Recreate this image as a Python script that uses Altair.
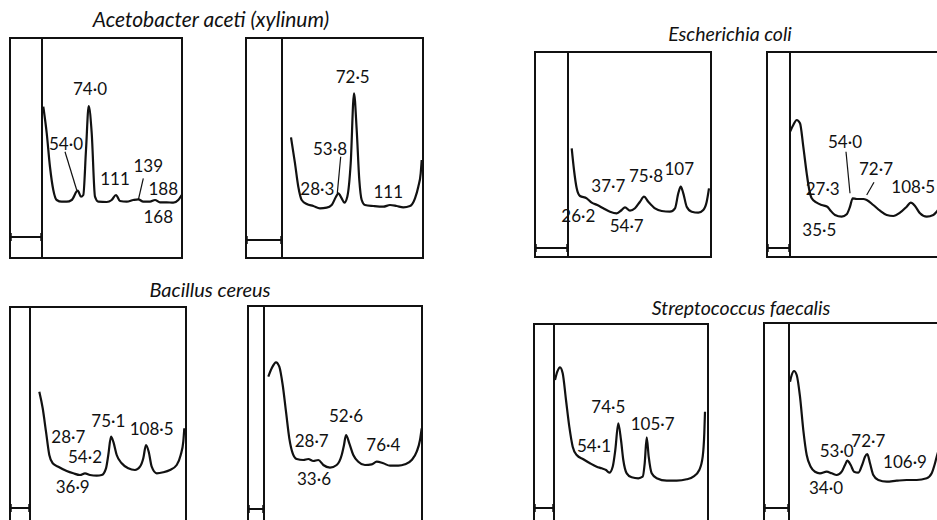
import altair as alt
import pandas as pd

# ---------------- data: traces (u = position right of strip, v = depth below panel top) ----------------
P1_U = [1.3, 4.7, 8, 11.3, 14.7, 19.7, 24.7, 29.7, 35.7, 39, 41.3, 44, 46.7, 49.7, 53, 56.3, 64.7, 69.7, 74, 78, 84.7, 91.3, 96.3, 101.3, 108, 113, 118, 124.7, 131.3, 136.3, 139.7]
P1_V = [68.7, 95, 129, 152, 162, 163.7, 163.7, 162, 152.7, 158.7, 157, 112, 68, 95, 158.7, 163.7, 164, 162, 157, 163, 163.7, 162, 161.3, 163.7, 163.7, 162, 164.3, 164.3, 164.7, 162, 157]

P2_U = [9, 13, 16.3, 19.7, 24.7, 31.3, 38, 44.7, 49.7, 54, 56.3, 59.7, 62.3, 65.3, 68.7, 72, 74.7, 77.3, 79.7, 83, 91.3, 101.3, 108, 114.7, 121.3, 128, 133, 136.3, 138.7, 139.7]
P2_V = [99.3, 125.3, 148.7, 162, 166, 168, 170.3, 169.7, 167, 158.7, 155.3, 160.3, 164.7, 158.7, 125.3, 55.3, 92, 142, 162, 167, 168, 168.7, 167, 168, 169.3, 168, 160.3, 148.7, 135.3, 122]

P3_U = [3.7, 6, 8.7, 12, 18.7, 23.7, 29.3, 35.3, 42, 48.7, 53.7, 57, 62, 67, 72, 76, 80.3, 87, 93.7, 102, 107, 110.3, 112.7, 115.3, 118.7, 123.7, 130.3, 135.3, 138.7, 141]
P3_V = [96.3, 118, 136.3, 144, 146.3, 150.7, 153, 156.3, 159.7, 161.3, 158, 155.3, 158.7, 156.3, 149.7, 144.7, 149.7, 156.3, 159, 159.7, 156.3, 141.3, 134.7, 141.3, 154.7, 159.7, 160.7, 158, 149.7, 136.3]

P4_U = [0, 3.3, 6.7, 10, 13.3, 16.7, 19.3, 21.7, 26.7, 31.7, 37.3, 40, 45, 51.7, 56.7, 60, 62.7, 66.7, 73.3, 76.7, 83.3, 90, 96.7, 103.3, 110, 116.7, 120.7, 125, 130, 136.7, 143.3, 146.7, 152]
P4_V = [79.7, 73, 68, 71.3, 94.7, 121.3, 138, 146.3, 150.7, 153, 154.7, 158, 163, 164.7, 162.3, 154.7, 146.3, 147, 147, 148, 153, 158.7, 163, 164, 160.7, 154.7, 150.7, 154, 161.3, 164.7, 163, 159.7, 152]

P5_U = [9.3, 12.7, 16, 19.3, 22.7, 28.3, 36.7, 43.3, 50, 55, 60, 66.7, 71.7, 76, 78.3, 81, 83.3, 86.7, 91.7, 98.3, 105, 110, 113.3, 116, 118.7, 121.7, 126.7, 133.3, 140, 146.7, 150.7, 153.3, 154.3]
P5_V = [84.7, 101.3, 124.7, 148, 156.3, 159.7, 164, 166.3, 168, 166.3, 168, 168.7, 168, 161.3, 148, 129.7, 134.7, 148, 156.3, 161.3, 163, 159.7, 151.3, 138, 144.7, 159.7, 166.3, 165.3, 163, 158, 148, 134.7, 121.3]

P6_U = [4.3, 7.7, 12, 15.3, 18.7, 22, 25.3, 28.7, 32.7, 39.3, 44.3, 49.3, 54.3, 59.3, 66, 72.7, 77.7, 80, 82, 85.3, 89.3, 94.3, 101, 107.7, 112.7, 119.3, 126, 134.3, 141, 147.7, 152.7, 156, 157.7]
P6_V = [70.7, 62.3, 56.3, 60.7, 79, 105.7, 132.3, 147.3, 153, 154, 153, 155, 154, 159, 161.7, 159, 149, 139, 129, 137.3, 149, 155.7, 159, 158.3, 155.7, 157.3, 159.7, 159.7, 158.3, 154, 145.7, 134, 122.3]

P7_U = [1, 3.3, 6, 8.7, 12, 15.3, 18.7, 22.7, 29.3, 36, 42.7, 47.7, 52, 55.3, 58.7, 61.3, 64.3, 67, 69.3, 72.7, 77.7, 84.3, 88.7, 90.7, 92.7, 94.7, 97.7, 102.7, 112.7, 122.7, 132.7, 139.3, 145.3, 148.7, 150.3, 151]
P7_V = [56, 47.7, 43.3, 49.3, 76, 102.7, 122.7, 131, 135.3, 139.3, 142.7, 144.3, 146, 148.7, 142.7, 126, 99.3, 116, 136, 149.3, 153.3, 154.3, 152.7, 139.3, 113.3, 132.7, 149.3, 154.3, 156.7, 156.7, 155.3, 152.7, 146, 132.7, 109.3, 87.7]

P8_U = [1, 2.7, 5, 7.7, 11, 14.3, 17.7, 21.7, 26, 31, 37.7, 42.7, 47.7, 52.7, 56, 58.3, 61.7, 65, 69.3, 73.7, 76, 78.3, 81, 84.3, 89.3, 97.7, 107.7, 117.7, 127.7, 137.7, 142.7, 146, 147.7, 152]
P8_V = [58.7, 52, 48, 52, 73.7, 107, 132, 143.7, 148.7, 150.3, 148.7, 150.3, 152, 148.7, 142, 137.7, 142, 148.7, 149.7, 140.3, 133.7, 131, 140.3, 152, 157, 158.7, 157.7, 157, 157, 155.3, 150.3, 140.3, 133.7, 120]

TRACES = {"P1": (P1_U, P1_V), "P2": (P2_U, P2_V), "P3": (P3_U, P3_V), "P4": (P4_U, P4_V),
          "P5": (P5_U, P5_V), "P6": (P6_U, P6_V), "P7": (P7_U, P7_V), "P8": (P8_U, P8_V)}

# ---------------- data: peak labels ----------------
LABEL_PANEL = ["P1", "P1", "P1", "P1", "P1", "P1",
               "P2", "P2", "P2", "P2",
               "P3", "P3", "P3", "P3", "P3",
               "P4", "P4", "P4", "P4", "P4",
               "P5", "P5", "P5", "P5", "P5",
               "P6", "P6", "P6", "P6",
               "P7", "P7", "P7",
               "P8", "P8", "P8", "P8"]
LABEL_TEXT = ["74·0", "54·0", "111", "139", "188", "168",
              "72·5", "53·8", "28·3", "111",
              "26·2", "37·7", "75·8", "107", "54·7",
              "54·0", "72·7", "27·3", "108·5", "35·5",
              "28·7", "75·1", "108·5", "54·2", "36·9",
              "52·6", "28·7", "76·4", "33·6",
              "74·5", "105·7", "54·1",
              "53·0", "72·7", "106·9", "34·0"]
LABEL_U = [48, 24, 73, 106.3, 121.3, 116.3,
           70.7, 48, 35.3, 106.3,
           10.3, 40.3, 78, 111.3, 58.7,
           55, 86, 32.7, 123.3, 29.3,
           38.3, 78.3, 121.7, 55, 42.7,
           82, 47.7, 119.3, 50,
           54.3, 98.7, 40,
           47.7, 79.3, 116, 37]
LABEL_V = [52, 107, 142, 128.7, 152, 180.3,
           40.3, 112, 152, 154.7,
           164.7, 134.7, 124.7, 118, 175.3,
           91.3, 118, 138, 136.3, 178.7,
           131.3, 114.7, 123, 151.3, 181.3,
           110.7, 135.7, 139.7, 174,
           84.3, 101, 122.7,
           128.7, 118.7, 140.3, 166.3]

# leader lines (panel, u1, v1, u2, v2)
LEADER_PANEL = ["P1", "P1", "P2", "P4", "P4"]
LEADER_U1 = [23, 101.3, 58.7, 56, 84]
LEADER_V1 = [113.7, 140.3, 118.7, 99.7, 130.3]
LEADER_U2 = [34.7, 96.3, 55.3, 60, 76.7]
LEADER_V2 = [152, 162, 155.3, 141.3, 143]

# species titles
TITLE_TEXT = ["Acetobacter aceti (xylinum)", "Escherichia coli", "Bacillus cereus", "Streptococcus faecalis"]

# ---------------- layout (pixel frame of each panel) ----------------
LAYOUT = {
    "P1": dict(left=10, div=42, right=182, top=38, bottom=258, bar=237),
    "P2": dict(left=246, div=282, right=423, top=38, bottom=258, bar=240),
    "P3": dict(left=535, div=568, right=711, top=52, bottom=257, bar=248),
    "P4": dict(left=767, div=790, right=960, top=52, bottom=257, bar=248),
    "P5": dict(left=10, div=30, right=186, top=307, bottom=530, bar=508),
    "P6": dict(left=248, div=264, right=422, top=306, bottom=530, bar=509),
    "P7": dict(left=534, div=554, right=708, top=324, bottom=530, bar=508),
    "P8": dict(left=764, div=789, right=960, top=323, bottom=530, bar=508),
}
TITLE_POS = [(211, 27, 21), (730, 41, 19.5), (210, 297, 20), (741, 315, 19.5)]

# ---------------- build tables ----------------
rows = []
for p, (us, vs) in TRACES.items():
    L = LAYOUT[p]
    for i, (u, v) in enumerate(zip(us, vs)):
        rows.append(dict(panel=p, i=i, x=L["div"] + u, y=L["top"] + v))
trace_df = pd.DataFrame(rows)

box_df = pd.DataFrame([dict(panel=p, x=L["left"], x2=L["right"], y=L["top"], y2=L["bottom"]) for p, L in LAYOUT.items()])
div_df = pd.DataFrame([dict(panel=p, x=L["div"], y=L["top"], y2=L["bottom"]) for p, L in LAYOUT.items()])
bar_df = pd.DataFrame([dict(panel=p, x=L["left"], x2=L["div"], y=L["bar"]) for p, L in LAYOUT.items()])
tick_df = pd.DataFrame([dict(x=xx, y=L["bar"] - 4, y2=L["bar"] + 4) for p, L in LAYOUT.items() for xx in (L["left"] + 1, L["div"] - 1)])

label_df = pd.DataFrame([dict(t=t, x=LAYOUT[p]["div"] + u, y=LAYOUT[p]["top"] + v)
                         for p, t, u, v in zip(LABEL_PANEL, LABEL_TEXT, LABEL_U, LABEL_V)])
leader_df = pd.DataFrame([dict(x=LAYOUT[p]["div"] + a, y=LAYOUT[p]["top"] + b, x2=LAYOUT[p]["div"] + c, y2=LAYOUT[p]["top"] + d)
                          for p, a, b, c, d in zip(LEADER_PANEL, LEADER_U1, LEADER_V1, LEADER_U2, LEADER_V2)])
title_df = pd.DataFrame([dict(t=t, x=x, y=y, s=s) for t, (x, y, s) in zip(TITLE_TEXT, TITLE_POS)])

X = alt.Scale(domain=[0, 937], nice=False, zero=False)
Y = alt.Scale(domain=[0, 520], nice=False, zero=False, reverse=True)


def xe(f="x"):
    return alt.X(f"{f}:Q", scale=X, axis=None)


def ye(f="y"):
    return alt.Y(f"{f}:Q", scale=Y, axis=None)


INK = "#111111"

boxes = alt.Chart(box_df).mark_rect(fill=None, stroke=INK, strokeWidth=2, clip=True).encode(
    x=xe(), x2="x2:Q", y=ye(), y2="y2:Q")
divs = alt.Chart(div_df).mark_rule(color=INK, strokeWidth=2, clip=True).encode(
    x=xe(), y=ye(), y2="y2:Q")
bars = alt.Chart(bar_df).mark_rule(color=INK, strokeWidth=2, clip=True).encode(
    x=xe(), x2="x2:Q", y=ye())
ticks = alt.Chart(tick_df).mark_rule(color=INK, strokeWidth=1.5, clip=True).encode(
    x=xe(), y=ye(), y2="y2:Q")
traces = alt.Chart(trace_df).mark_line(color=INK, strokeWidth=2.2, interpolate="monotone", clip=True).encode(
    x=xe(), y=ye(), detail="panel:N", order="i:Q")
leaders = alt.Chart(leader_df).mark_rule(color=INK, strokeWidth=1.2).encode(
    x=xe(), y=ye(), x2="x2:Q", y2="y2:Q")
labels = alt.Chart(label_df).mark_text(font="Lato", fontSize=17, color=INK, baseline="middle", align="center").encode(
    x=xe(), y=ye(), text="t:N")
titles = alt.Chart(title_df).mark_text(font="Lato", fontStyle="italic", color=INK, baseline="alphabetic", align="center").encode(
    x=xe(), y=ye(), text="t:N", size=alt.Size("s:Q", scale=None, legend=None))

chart = alt.layer(boxes, divs, bars, ticks, traces, leaders, labels, titles).properties(
    width=937, height=520, padding=0, autosize=alt.AutoSizeParams(type="none"),
    background="white"
).configure_view(stroke=None)

chart.save("out.html", embed_options={"renderer": "svg", "actions": False})
